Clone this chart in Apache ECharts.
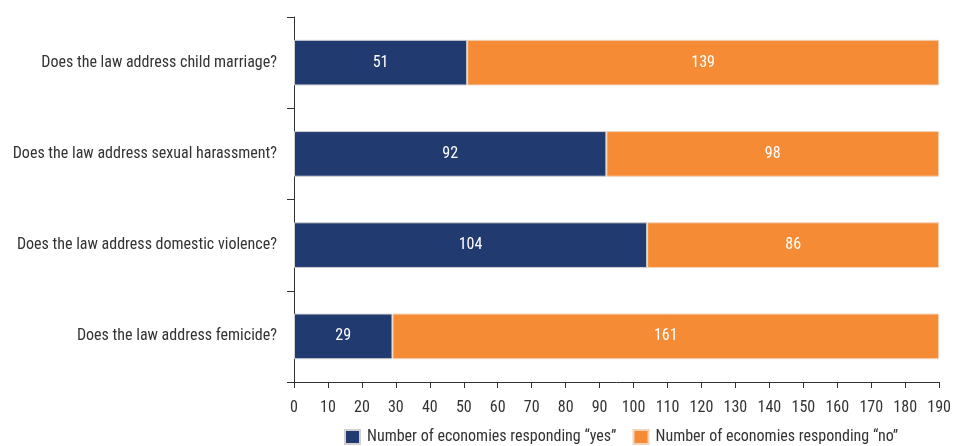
<!DOCTYPE html>
<html><head><meta charset="utf-8">
<script src="https://cdn.jsdelivr.net/npm/echarts@6/dist/echarts.min.js"></script>
<style>html,body{margin:0;padding:0;background:#fff;overflow:hidden}#c{width:954px;height:446px}</style>
</head><body><div id="c"></div>
<script>
const categories = [
  "Does the law address child marriage?",
  "Does the law address sexual harassment?",
  "Does the law address domestic violence?",
  "Does the law address femicide?"
];
const yesValues = [51, 92, 104, 29];
const noValues = [139, 98, 86, 161];
const seriesNames = ["Number of economies responding \u201cyes\u201d", "Number of economies responding \u201cno\u201d"];

const FONT = "'Liberation Sans Narrow', 'Roboto Condensed', 'Liberation Sans', sans-serif";
const chart = echarts.init(document.getElementById('c'));
chart.setOption({
  animation: false,
  textStyle: { fontFamily: FONT },
  grid: { left: 294, right: 11, top: 17, bottom: 64, containLabel: false },
  legend: {
    left: 339, top: 424, itemWidth: 15, itemHeight: 14, itemGap: 16,
    icon: 'rect',
    textStyle: { fontFamily: FONT, fontSize: 16, color: '#333', padding: [0, 0, 0, 2] },
    data: seriesNames
  },
  xAxis: {
    type: 'value', min: 0, max: 190, interval: 10,
    axisLine: { show: true, lineStyle: { color: '#333', width: 1 } },
    axisTick: { show: true, length: 6, lineStyle: { color: '#333' } },
    splitLine: { show: false },
    axisLabel: { fontFamily: FONT, fontSize: 16, color: '#333', margin: 18 }
  },
  yAxis: {
    type: 'category', data: categories, inverse: true,
    axisLine: { show: true, lineStyle: { color: '#333', width: 1 } },
    axisTick: { show: true, length: 7, lineStyle: { color: '#333' } },
    axisLabel: { fontFamily: FONT, fontSize: 16, color: '#333', margin: 17 }
  },
  series: [
    {
      name: seriesNames[0], type: 'bar', stack: 'a', data: yesValues,
      barWidth: '50%',
      itemStyle: { color: '#213A70', borderColor: '#d0d0d0', borderWidth: 1 },
      label: { show: true, position: 'inside', color: '#fff', fontFamily: FONT, fontSize: 16 }
    },
    {
      name: seriesNames[1], type: 'bar', stack: 'a', data: noValues,
      barWidth: '50%',
      itemStyle: { color: '#F68B35', borderColor: '#f3d3b8', borderWidth: 1 },
      label: { show: true, position: 'inside', color: '#fff', fontFamily: FONT, fontSize: 16 }
    }
  ]
});
</script></body></html>
